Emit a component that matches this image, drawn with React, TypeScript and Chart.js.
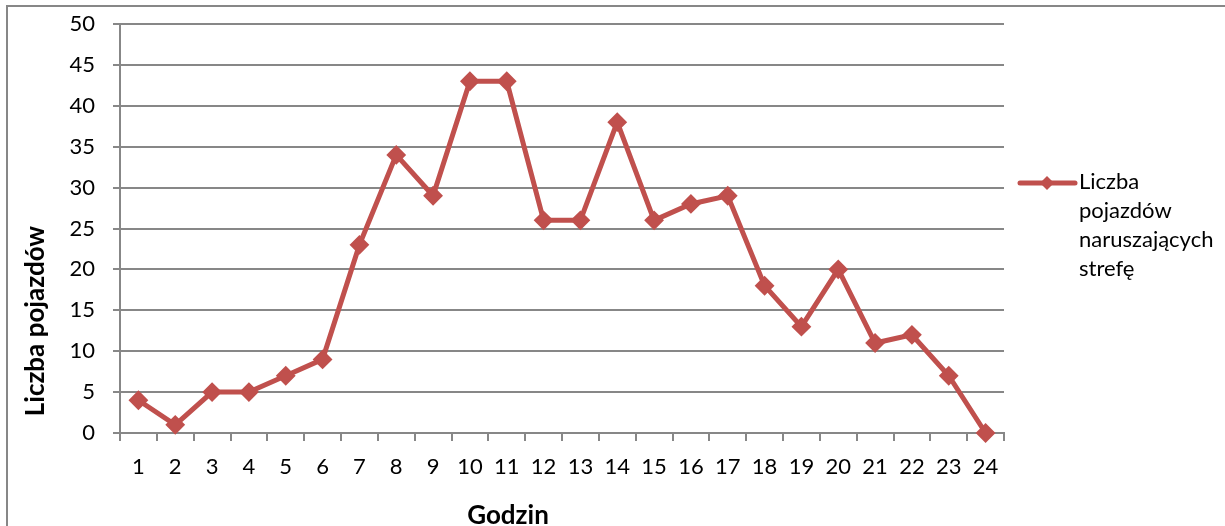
import React, { useEffect, useRef } from "react";
import { Chart, registerables } from "chart.js";

Chart.register(...registerables);

// Hours of the day (category axis)
const hours: string[] = [
  "1", "2", "3", "4", "5", "6", "7", "8", "9", "10", "11", "12",
  "13", "14", "15", "16", "17", "18", "19", "20", "21", "22", "23", "24",
];

// Number of vehicles violating the zone, per hour
const vehicles: number[] = [
  4, 1, 5, 5, 7, 9, 23, 34, 29, 43, 43, 26,
  26, 38, 26, 28, 29, 18, 13, 20, 11, 12, 7, 0,
];

const seriesLabel = "Liczba pojazdów naruszających strefę";
const xTitle = "Godzin";
const yTitle = "Liczba pojazdów";

const yMin = 0;
const yMax = 50;
const yStep = 5;

const LINE_COLOR = "#C0504D";
const GRID_COLOR = "#878787";
const FONT = "Lato";
const TICK_SIZE = 22;
const TITLE_SIZE = 26;

// Draws the frame, axis titles and the wrapped legend on the right
const decorations = {
  id: "decorations",
  afterDraw(chart: Chart) {
    const { ctx, chartArea } = chart;
    ctx.save();

    // outer frame (top and left edges)
    ctx.strokeStyle = GRID_COLOR;
    ctx.lineWidth = 2;
    ctx.beginPath();
    ctx.moveTo(7, chart.height + 2);
    ctx.lineTo(7, 6);
    ctx.lineTo(chart.width + 2, 6);
    ctx.stroke();

    // axis titles
    ctx.fillStyle = "#000";
    ctx.font = `bold ${TITLE_SIZE}px ${FONT}`;
    ctx.textAlign = "center";
    ctx.textBaseline = "alphabetic";
    ctx.fillText(xTitle, 508, 524);

    ctx.save();
    ctx.translate(44, 321);
    ctx.rotate(-Math.PI / 2);
    ctx.fillText(yTitle, 0, 0);
    ctx.restore();

    // legend
    const lx = chartArea.right + 16;
    const ly = 183;
    ctx.strokeStyle = LINE_COLOR;
    ctx.lineWidth = 5;
    ctx.lineCap = "round";
    ctx.beginPath();
    ctx.moveTo(lx, ly);
    ctx.lineTo(lx + 55, ly);
    ctx.stroke();
    const cx = lx + 27;
    const r = 7;
    ctx.fillStyle = LINE_COLOR;
    ctx.beginPath();
    ctx.moveTo(cx, ly - r);
    ctx.lineTo(cx + r, ly);
    ctx.lineTo(cx, ly + r);
    ctx.lineTo(cx - r, ly);
    ctx.closePath();
    ctx.fill();

    ctx.fillStyle = "#000";
    ctx.font = `${TICK_SIZE}px ${FONT}`;
    ctx.textAlign = "left";
    const maxW = 140;
    const words = seriesLabel.split(" ");
    const lines: string[] = [];
    let cur = "";
    for (const w of words) {
      const test = cur ? cur + " " + w : w;
      if (cur && ctx.measureText(test).width > maxW) {
        lines.push(cur);
        cur = w;
      } else {
        cur = test;
      }
    }
    if (cur) lines.push(cur);
    lines.forEach((t, i) => ctx.fillText(t, lx + 59, 189 + i * 29));

    ctx.restore();
  },
};

export default function App() {
  const canvasRef = useRef<HTMLCanvasElement | null>(null);

  useEffect(() => {
    let chart: Chart | null = null;
    let cancelled = false;

    const build = () => {
      if (cancelled || !canvasRef.current) return;
      chart = new Chart(canvasRef.current, {
        type: "line",
        data: {
          labels: hours,
          datasets: [
            {
              label: seriesLabel,
              data: vehicles,
              borderColor: LINE_COLOR,
              backgroundColor: LINE_COLOR,
              borderWidth: 5,
              tension: 0,
              clip: false,
              pointStyle: "rectRot",
              pointRadius: 8.5,
              pointBorderWidth: 2,
              pointBackgroundColor: LINE_COLOR,
              pointBorderColor: LINE_COLOR,
            },
          ],
        },
        options: {
          responsive: false,
          animation: false,
          devicePixelRatio: 1,
          layout: { padding: { left: 0, top: 24, right: 221, bottom: 0 } },
          plugins: {
            legend: { display: false },
            tooltip: { enabled: false },
          },
          scales: {
            x: {
              type: "category",
              offset: true,
              afterFit: (s: any) => {
                s.height = 93;
                s.paddingLeft = 0;
                s.paddingRight = 0;
              },
              grid: {
                offset: true,
                drawOnChartArea: false,
                drawTicks: true,
                tickLength: 8,
                color: GRID_COLOR,
                lineWidth: 2,
              },
              border: { display: true, color: GRID_COLOR, width: 2 },
              ticks: {
                color: "#000",
                font: { family: FONT, size: TICK_SIZE },
                padding: 13,
                maxRotation: 0,
                autoSkip: false,
              },
            },
            y: {
              min: yMin,
              max: yMax,
              afterFit: (s: any) => {
                s.width = 120;
                s.paddingTop = 0;
                s.paddingBottom = 0;
              },
              grid: {
                color: GRID_COLOR,
                lineWidth: 2,
                tickLength: 7,
              },
              border: { display: true, color: GRID_COLOR, width: 2 },
              ticks: {
                stepSize: yStep,
                color: "#000",
                font: { family: FONT, size: TICK_SIZE },
                padding: 18,
              },
            },
          },
        },
        plugins: [decorations],
      });
    };

    const fontsReady = (document as any).fonts
      ? Promise.all([
          (document as any).fonts.load(`${TICK_SIZE}px ${FONT}`),
          (document as any).fonts.load(`bold ${TITLE_SIZE}px ${FONT}`),
        ]).catch(() => null)
      : Promise.resolve(null);
    fontsReady.then(build);

    return () => {
      cancelled = true;
      if (chart) chart.destroy();
    };
  }, []);

  return (
    <div style={{ position: "absolute", left: 0, top: 0, width: 1225, height: 526, background: "#fff" }}>
      <canvas ref={canvasRef} width={1225} height={526} style={{ display: "block" }} />
    </div>
  );
}
